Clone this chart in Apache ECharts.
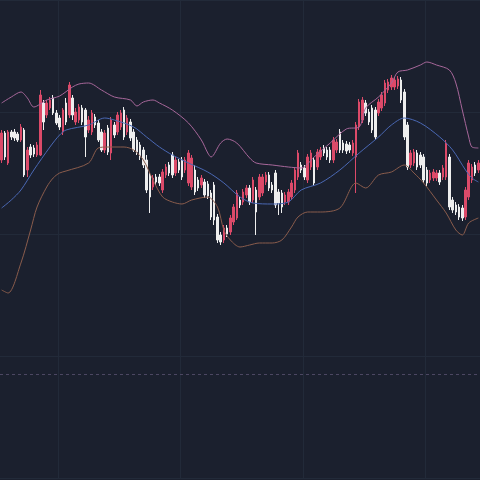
<!DOCTYPE html>
<html>
<head>
<meta charset="utf-8">
<script src="https://cdn.jsdelivr.net/npm/echarts@6/dist/echarts.min.js"></script>
<style>
  html, body { margin: 0; padding: 0; background: #1b202e; }
  #main { width: 480px; height: 480px; }
</style>
</head>
<body>
<div id="main"></div>
<script>
// K线数据 [open, close, low, high]
const candles = [
  [318,345,315,348],[345,321,318,347],[315,346,313,348],[346,341,338,348],[346,340,337,349],
  [344,338,336,346],[338,351,336,354],[348,303,301,350],[308,328,301,331],[331,323,320,334],
  [330,324,321,333],[323,333,321,336],[323,383,322,388],[375,356,348,378],[363,375,360,378],
  [370,378,368,381],[380,365,363,383],[365,355,353,368],[360,351,348,363],[346,368,343,370],
  [375,356,353,380],[363,393,360,396],[380,363,358,383],[356,366,353,370],[358,371,355,374],
  [370,356,353,373],[368,341,321,370],[348,358,345,362],[346,365,343,368],[361,353,350,364],
  [355,338,336,358],[346,328,326,349],[328,345,325,348],[350,326,323,353],[325,358,318,361],
  [353,343,340,356],[346,363,343,366],[351,365,348,368],[368,341,338,371],[346,360,343,363],
  [356,340,337,359],[346,328,326,349],[338,326,323,341],[333,321,318,336],[328,313,310,331],
  [318,288,285,323],[303,281,265,306],[291,300,288,303],[301,296,293,304],[301,295,292,304],
  [288,306,285,309],[303,311,300,314],[313,305,302,316],[323,303,300,326],[305,318,302,321],
  [316,308,305,319],[318,301,298,321],[308,318,305,321],[295,325,292,328],[291,320,288,323],
  [308,286,283,313],[298,290,287,301],[293,300,290,303],[296,283,280,299],[294,282,279,297],
  [285,261,258,288],[293,258,253,296],[261,238,235,264],[243,236,233,246],[238,250,235,253],
  [250,244,241,253],[246,260,243,263],[256,271,253,274],[260,285,258,288],[278,273,270,281],
  [276,286,273,289],[283,290,280,293],[290,276,273,293],[278,298,275,301],[288,266,243,291],
  [281,301,278,304],[285,301,282,304],[296,303,293,306],[303,290,287,306],[293,288,285,296],
  [305,273,270,308],[286,275,263,289],[285,271,265,288],[276,283,273,286],[276,286,273,289],
  [281,295,278,298],[288,308,285,311],[301,325,298,328],[313,308,305,316],[310,301,298,313],
  [298,321,295,324],[311,325,308,328],[318,295,292,321],[311,326,308,329],[321,328,318,331],
  [330,325,322,333],[328,321,318,331],[328,318,315,331],[318,338,315,341],[328,336,325,339],
  [346,328,325,349],[335,328,325,338],[334,327,324,337],[333,328,325,336],[325,335,322,338],
  [321,353,285,356],[351,376,348,379],[358,378,355,381],[375,365,362,378],[366,356,353,369],
  [370,348,345,373],[368,341,338,371],[365,376,362,379],[370,383,367,386],[375,395,372,398],
  [388,396,385,399],[391,400,388,403],[391,398,388,401],[392,399,389,402],[398,378,375,401],
  [386,341,338,389],[353,311,308,356],[313,325,310,328],[315,326,312,329],[325,311,308,328],
  [323,313,310,326],[321,298,295,324],[308,295,292,311],[298,305,295,308],[300,306,297,309],
  [300,305,297,308],[305,296,293,308],[301,310,298,313],[301,335,298,338],[321,271,268,324],
  [278,268,265,281],[273,266,263,276],[271,261,258,274],[270,260,257,273],[261,288,258,291],
  [281,315,278,318],[298,311,295,314],[313,305,302,316],[308,315,305,318]
];

// 布林带 [K线序号, 数值]
const upperBand = [
  [0,375],[3,381],[6,386],[8,380],[10,371],[14,378],[18,382],[22,391],[24,394],[27,395],
  [31,388],[35,381],[40,378],[42,372],[44,376],[47,378],[49,375],[53,368],[58,355],[62,338],
  [64,325],[65,321],[68,335],[70,339],[73,335],[77,320],[79,315],[84,313],[89,311],[93,310],
  [97,321],[102,335],[107,349],[111,351],[113,370],[117,381],[121,395],[123,406],[126,408],
  [130,413],[132,416],[135,413],[139,408],[141,395],[143,368],[145,341],[146,331],[148,330]
];
const midBand = [
  [0,270],[3,278],[6,288],[10,308],[15,331],[18,343],[20,348],[27,353],[32,360],[35,358],
  [41,351],[45,341],[49,331],[53,323],[58,315],[64,306],[69,295],[74,281],[78,275],[84,274],
  [89,276],[93,288],[99,295],[105,308],[111,325],[117,341],[121,353],[125,360],[130,355],
  [136,341],[140,328],[144,308],[146,300],[148,296]
];
const lowerBand = [
  [0,188],[2,185],[6,215],[9,248],[11,271],[14,291],[16,300],[18,305],[20,307],[27,315],
  [30,330],[33,331],[38,331],[41,328],[44,318],[47,298],[50,281],[53,276],[56,274],[59,278],
  [64,281],[67,271],[69,248],[71,238],[74,231],[77,233],[80,235],[84,235],[87,238],[90,251],
  [92,261],[95,266],[99,266],[105,270],[110,295],[113,290],[117,303],[121,306],[125,313],
  [128,305],[131,295],[135,278],[138,265],[141,248],[143,243],[145,255],[148,260]
];

// 虚线参考值
const baseLine = 104;

const categories = candles.map((c, i) => String(i + 1));

const chart = echarts.init(document.getElementById('main'));

const option = {
  backgroundColor: '#1b202e',
  animation: false,
  grid: { left: 0, right: 0, top: 0, bottom: 2, containLabel: false },
  xAxis: {
    type: 'category',
    data: categories,
    boundaryGap: true,
    axisLine: { show: false },
    axisTick: { show: false },
    axisLabel: { show: false },
    splitLine: {
      show: true,
      interval: function (index) { return index % 38 === 18; },
      lineStyle: { color: '#222a39', width: 1 }
    }
  },
  yAxis: {
    type: 'value',
    min: 0,
    max: 478,
    interval: 122,
    axisLine: { show: false },
    axisTick: { show: false },
    axisLabel: { show: false },
    splitLine: { show: true, lineStyle: { color: '#222a39', width: 1 } }
  },
  series: [
    {
      name: 'K',
      type: 'candlestick',
      data: candles,
      barWidth: '62%',
      itemStyle: {
        color: '#dc4a69',
        color0: '#eeeeee',
        borderColor: '#dc4a69',
        borderColor0: '#eeeeee',
        borderWidth: 1
      },
      markLine: {
        silent: true,
        symbol: ['none', 'none'],
        label: { show: false },
        lineStyle: { type: [3, 3], color: '#4c4762', width: 1 },
        data: [{ yAxis: baseLine }]
      }
    },
    {
      name: 'UP',
      type: 'line',
      data: upperBand,
      smooth: 0.3,
      showSymbol: false,
      lineStyle: { color: '#a7679a', width: 1 }
    },
    {
      name: 'MID',
      type: 'line',
      data: midBand,
      smooth: 0.3,
      showSymbol: false,
      lineStyle: { color: '#4a68b4', width: 1 }
    },
    {
      name: 'LOW',
      type: 'line',
      data: lowerBand,
      smooth: 0.3,
      showSymbol: false,
      lineStyle: { color: '#8a5c4c', width: 1 }
    }
  ]
};

option && chart.setOption(option);
</script>
</body>
</html>
